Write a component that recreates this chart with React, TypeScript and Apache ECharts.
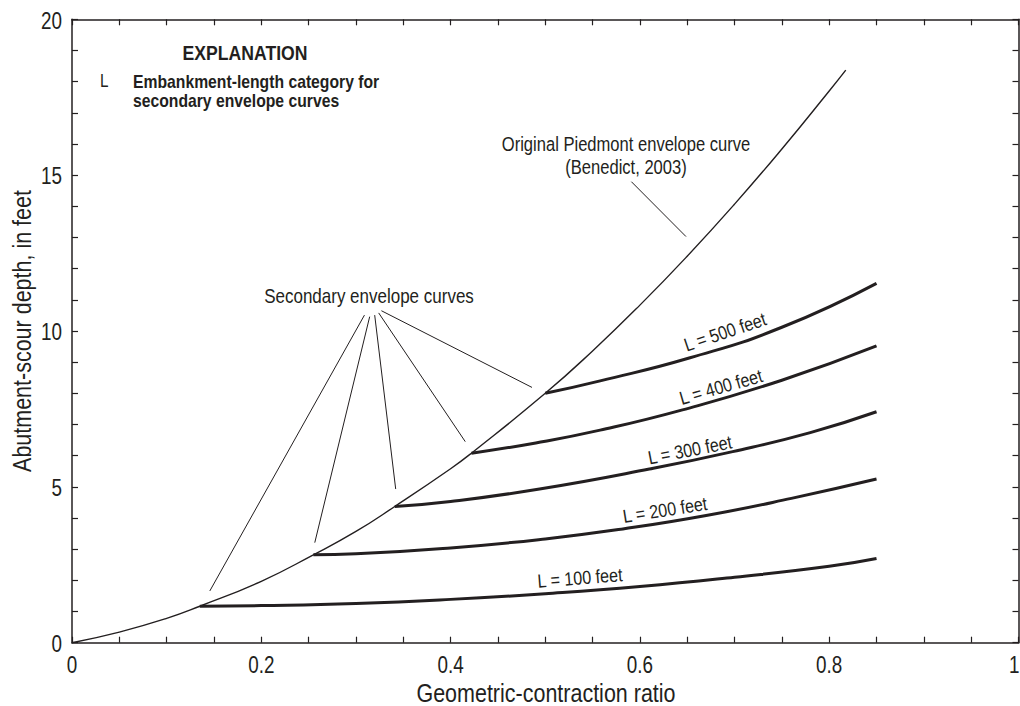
import React, { useEffect, useRef } from "react";
import * as echarts from "echarts";

const FONT = "'Liberation Sans', Arial, sans-serif";
const INK = "#231f20";

// Original Piedmont envelope curve (Benedict, 2003)
const mainX = [0, 0.05, 0.1, 0.135, 0.2, 0.255, 0.3, 0.341, 0.4, 0.422, 0.5, 0.55, 0.6, 0.65, 0.7, 0.75, 0.8, 0.8175];
const mainY = [0, 0.34, 0.78, 1.17, 1.97, 2.82, 3.57, 4.37, 5.58, 6.08, 8.0, 9.36, 10.83, 12.4, 14.07, 15.84, 17.7, 18.37];

// Secondary envelope curves
const l100X = [0.135, 0.2, 0.3, 0.4, 0.5, 0.6, 0.7, 0.8, 0.85];
const l100Y = [1.17, 1.19, 1.26, 1.39, 1.57, 1.8, 2.1, 2.45, 2.7];
const l200X = [0.255, 0.3, 0.4, 0.5, 0.582, 0.67, 0.76, 0.85];
const l200Y = [2.82, 2.85, 3.04, 3.33, 3.65, 4.08, 4.63, 5.25];
const l300X = [0.341, 0.4, 0.494, 0.61, 0.698, 0.78, 0.85];
const l300Y = [4.37, 4.53, 4.93, 5.57, 6.13, 6.74, 7.41];
const l400X = [0.422, 0.49, 0.558, 0.645, 0.75, 0.85];
const l400Y = [6.08, 6.41, 6.82, 7.47, 8.42, 9.52];
const l500X = [0.5, 0.558, 0.653, 0.75, 0.85];
const l500Y = [8.0, 8.4, 9.14, 10.12, 11.53];

// Leader lines (data coordinates): [x1, y1, x2, y2]
const secondaryLeaders = [
  [0.309, 10.51, 0.1456, 1.66],
  [0.3145, 10.46, 0.2565, 3.21],
  [0.3198, 10.51, 0.342, 4.93],
  [0.324, 10.58, 0.4155, 6.45],
  [0.3269, 10.65, 0.486, 8.19],
];
const originalLeader = [0.591, 14.79, 0.6487, 13.03];

// Tick labels
const xTickLabels = [0, 0.2, 0.4, 0.6, 0.8, 1];
const yTickLabels = [0, 5, 10, 15, 20];

const xTicks = { min: 0, max: 1, interval: 0.2 };
const yTicks = { min: 0, max: 20, interval: 5 };

const zip = (xs: number[], ys: number[]) => xs.map((x, i) => [x, ys[i]]);

export default function App() {
  const ref = useRef<HTMLDivElement>(null);
  useEffect(() => {
    const chart = echarts.init(ref.current!, undefined, { renderer: "svg" });
    const axisCommon = {
      type: "value" as const,
      axisLine: { show: true, onZero: false, lineStyle: { color: INK, width: 1.5 } },
      axisTick: { show: true, inside: true, length: 6, lineStyle: { color: INK, width: 1.2 } },
      minorTick: { show: true, length: 6, lineStyle: { color: INK, width: 1.2 } },
      splitLine: { show: false },
      axisLabel: { show: false },
    };
    const line = (name: string, xs: number[], ys: number[], width: number) => ({
      type: "line",
      name,
      data: zip(xs, ys),
      showSymbol: false,
      smooth: 0.5,
      lineStyle: { color: INK, width },
      silent: true,
    });
    chart.setOption({
      animation: false,
      grid: { left: 72, right: 1.5, top: 19.3, bottom: 63.3, show: false },
      xAxis: [
        { ...axisCommon, ...xTicks, position: "bottom", minorTick: { ...axisCommon.minorTick, splitNumber: 4 } },
        { ...axisCommon, ...xTicks, position: "top", minorTick: { ...axisCommon.minorTick, splitNumber: 4 } },
      ],
      yAxis: [
        { ...axisCommon, ...yTicks, position: "left", minorTick: { ...axisCommon.minorTick, splitNumber: 5 } },
        { ...axisCommon, ...yTicks, position: "right", minorTick: { ...axisCommon.minorTick, splitNumber: 5 } },
      ],
      series: [
        line("Original Piedmont envelope curve", mainX, mainY, 1.4),
        line("L = 100 feet", l100X, l100Y, 3),
        line("L = 200 feet", l200X, l200Y, 3),
        line("L = 300 feet", l300X, l300Y, 3),
        line("L = 400 feet", l400X, l400Y, 3),
        line("L = 500 feet", l500X, l500Y, 3),
      ],
    });

    const px = (x: number, y: number) => chart.convertToPixel({ gridIndex: 0 }, [x, y]) as number[];
    const leader = (s: number[]) => {
      const a = px(s[0], s[1]);
      const b = px(s[2], s[3]);
      return {
        type: "line",
        shape: { x1: a[0], y1: a[1], x2: b[0], y2: b[1] },
        style: { stroke: INK, lineWidth: 1 },
        silent: true,
      };
    };
    const text = (t: string, x: number, y: number, size: number, opts: any = {}) => ({
      type: "text",
      x,
      y,
      rotation: opts.rotation || 0,
      scaleX: opts.scaleX || 0.85,
      style: {
        text: t,
        fill: INK,
        fontFamily: FONT,
        fontSize: size,
        fontWeight: opts.bold ? "bold" : "normal",
        align: opts.align || "center",
        verticalAlign: "middle",
      },
      silent: true,
    });
    const deg = Math.PI / 180;
    const origin = px(0, 0);
    const lastX = xTickLabels[xTickLabels.length - 1];
    chart.setOption({
      graphic: [
        ...secondaryLeaders.map(leader),
        leader(originalLeader),
        ...xTickLabels.map((v) =>
          v === lastX
            ? text(String(v), 1019.5, 664.5, 23, { scaleX: 0.82, align: "right" })
            : text(String(v), px(v, 0)[0], 664.5, 23, { scaleX: 0.82 })
        ),
        ...yTickLabels.map((v) =>
          text(String(v), origin[0] - 10, px(0, v)[1] + 1, 23, { scaleX: 0.82, align: "right" })
        ),
        text("EXPLANATION", 245, 52, 21, { bold: true, scaleX: 0.84 }),
        text("L", 100, 81, 18, { align: "left" }),
        text("Embankment-length category for", 133, 81.5, 18.5, { bold: true, align: "left" }),
        text("secondary envelope curves", 133, 101, 18.5, { bold: true, align: "left" }),
        text("Original Piedmont envelope curve", 626, 145, 19.5),
        text("(Benedict, 2003)", 626, 168, 19.5),
        text("Secondary envelope curves", 369, 296, 20),
        text("L = 100 feet", 580, 578, 19, { rotation: 4.5 * deg }),
        text("L = 200 feet", 665, 510, 19, { rotation: 9 * deg }),
        text("L = 300 feet", 690, 450, 19, { rotation: 11 * deg }),
        text("L = 400 feet", 721, 387, 19, { rotation: 16 * deg }),
        text("L = 500 feet", 725, 332, 19, { rotation: 18.5 * deg }),
        text("Geometric-contraction ratio", 546, 693, 25, { scaleX: 0.86 }),
        text("Abutment-scour depth, in feet", 22.5, 331, 25, { scaleX: 0.86, rotation: 90 * deg }),
      ],
    });
    return () => chart.dispose();
  }, []);
  return (
    <div
      ref={ref}
      style={{ position: "fixed", left: 0, top: 0, width: 1020, height: 706, background: "#fff" }}
    />
  );
}
